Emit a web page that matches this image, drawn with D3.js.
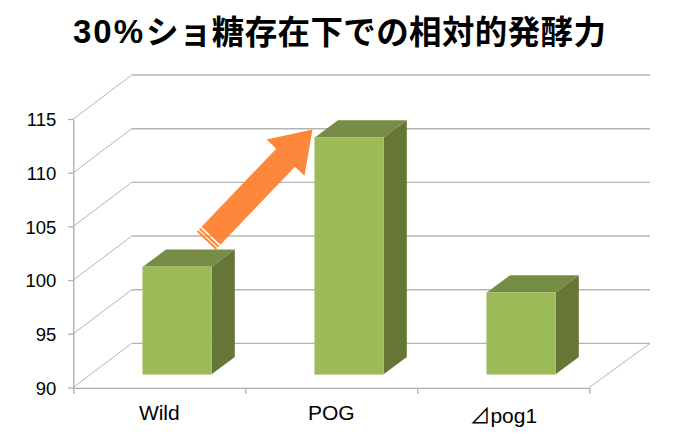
<!DOCTYPE html>
<html><head><meta charset="utf-8">
<script src="https://cdnjs.cloudflare.com/ajax/libs/d3/7.8.5/d3.min.js"></script>
<style>html,body{margin:0;padding:0;background:#fff}svg{display:block}</style></head>
<body><svg id="c" width="679" height="437"></svg>
<script>
const titleLatin = "30%";
const titleCJK = "ショ糖存在下での相対的発酵力";
const categories = ["Wild","POG","⊿pog1"];
const values = [100, 112.05, 97.6];
const yTicks = [90,95,100,105,110,115];

const W=679,H=437;
const svg=d3.select("#c");
const x0=73.3,x1=589.3,yBottom=387.4,yTop=119;
const wallDx=58.4,wallDy=-44,wallRight=650;
const x=d3.scaleBand().domain(categories).range([x0,x1]).padding(0);
const xEdge=d3.scaleLinear().domain([0,categories.length]).range([x0,x1]);
const y=d3.scaleLinear().domain([90,115]).range([yBottom,yTop]);
const gridC="#b4b4b4", axisC="#adadad";

// title
const title=svg.append("g").attr("font-weight",700).attr("fill","#000");
title.append("text").attr("x",73).attr("y",42.5).attr("font-size",33).attr("font-family","'Liberation Sans',sans-serif")
  .attr("textLength",70).attr("lengthAdjust","spacing").text(titleLatin);
title.append("text").attr("x",146).attr("y",44).attr("font-size",32.5).attr("font-family","'Noto Sans CJK JP',sans-serif")
  .attr("textLength",460).attr("lengthAdjust","spacing").text(titleCJK);

// gridlines
const grid=svg.append("g").attr("fill","none").attr("stroke",gridC);
yTicks.forEach(t=>{
  const yy=y(t);
  grid.append("line").attr("x1",x0).attr("y1",yy).attr("x2",x0+wallDx).attr("y2",yy+wallDy).attr("stroke-width",1);
  grid.append("line").attr("x1",x0+wallDx).attr("y1",yy+wallDy).attr("x2",wallRight).attr("y2",yy+wallDy).attr("stroke-width",1.4);
});
grid.append("line").attr("x1",x1).attr("y1",y(90)).attr("x2",wallRight).attr("y2",y(90)+wallDy).attr("stroke-width",1);

// axes
const axL=svg.append("g").attr("transform",`translate(${x0},0)`)
  .call(d3.axisLeft(y).tickValues(yTicks).tickSize(5).tickSizeOuter(0).tickPadding(12));
const axB=svg.append("g").attr("transform",`translate(0,${yBottom+0.5})`)
  .call(d3.axisBottom(xEdge).ticks(categories.length).tickSize(6).tickSizeOuter(0).tickFormat(""));
[axL,axB].forEach(a=>{a.selectAll("path,line").attr("stroke",axisC).attr("stroke-width",1.3);});
axL.selectAll("text").attr("font-family","'Liberation Sans',sans-serif").attr("font-size",18.5).attr("fill","#000").attr("dy","0.36em");

// category labels
svg.append("g").selectAll("text").data(categories).join("text")
  .attr("x",d=>x(d)+x.bandwidth()/2).attr("y",(d,i)=>i===2?422.5:420)
  .attr("text-anchor","middle").attr("font-family","'Liberation Sans','Noto Sans CJK JP',sans-serif")
  .attr("font-size",21).attr("fill","#000").text(d=>d);

// bars
const barW=x.bandwidth()*0.4, insetX=17.9, baseY=y(90)-13.2, dX=23.2, dY=-17.3;
const pts=a=>a.map(p=>p.join(",")).join(" ");
const scaleH=d=>y(d)-y(90);
const bars=svg.append("g").selectAll("g").data(categories.map((c,i)=>({c,v:values[i]}))).join("g");
bars.each(function(d){
  const g=d3.select(this);
  const l=x(d.c)+x.bandwidth()/2+insetX-barW/2, r=l+barW, t=baseY+scaleH(d.v), b=baseY;
  g.append("polygon").attr("points",pts([[r,t],[r+dX,t+dY],[r+dX,b+dY],[r,b]])).attr("fill","#657636");
  g.append("polygon").attr("points",pts([[l,t],[l+dX,t+dY],[r+dX,t+dY],[r,t]])).attr("fill","#778c44");
  g.append("rect").attr("x",l).attr("y",t).attr("width",barW).attr("height",b-t).attr("fill","#9bbb59").attr("stroke","#aac572").attr("stroke-width",.7);
});

// annotation arrow from Wild to POG
const ax=x(categories[0])+x.bandwidth()/2+insetX+barW/2-0.6, ay=baseY+scaleH(values[0])-31;
const bx=x(categories[1])+x.bandwidth()/2+insetX-barW/2-2.3, by=baseY+scaleH(values[1])-8;
const L=Math.hypot(bx-ax,by-ay), ang=Math.atan2(by-ay,bx-ax)*180/Math.PI;
const sw=13,hw=26.2,hl=39;
const arrow=svg.append("g").attr("transform",`translate(${ax},${ay}) rotate(${ang})`).attr("fill","#fd7f2c").attr("fill-opacity",.93);
arrow.append("polygon").attr("points",pts([[0,-sw],[L-hl,-sw],[L-hl,-hw],[L,0],[L-hl,hw],[L-hl,sw],[0,sw]]));
arrow.append("rect").attr("x",-3.6).attr("y",-sw).attr("width",2).attr("height",sw*2);
arrow.append("rect").attr("x",-6.8).attr("y",-sw).attr("width",2).attr("height",sw*2);
</script></body></html>
